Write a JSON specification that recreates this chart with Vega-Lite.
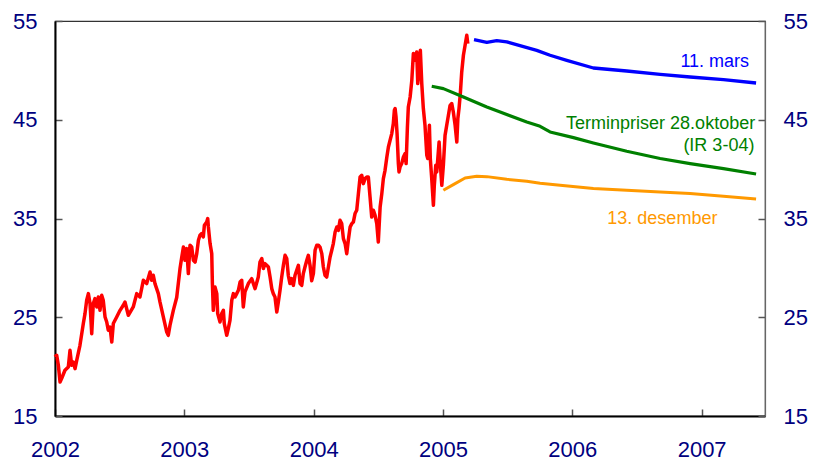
{
  "$schema": "https://vega.github.io/schema/vega-lite/v6.json",
  "width": 710,
  "height": 395,
  "autosize": "none",
  "padding": {"left": 55, "top": 21, "right": 49, "bottom": 49},
  "background": "white",
  "config": {
    "view": {"stroke": "#333333", "strokeWidth": 1.2},
    "axis": {
      "grid": false,
      "labelFont": "Liberation Sans",
      "labelFontSize": 22,
      "labelColor": "#000080",
      "tickColor": "#555555",
      "tickWidth": 1.5,
      "tickSize": -7,
      "domainColor": "#000000",
      "domainWidth": 2,
      "title": null
    }
  },
  "datasets": {
    "lines": [
      {"series": "Brent", "year": 2002.000, "value": 20.97},
      {"series": "Brent", "year": 2002.013, "value": 21.15},
      {"series": "Brent", "year": 2002.026, "value": 20.13},
      {"series": "Brent", "year": 2002.039, "value": 18.44},
      {"series": "Brent", "year": 2002.052, "value": 18.82},
      {"series": "Brent", "year": 2002.077, "value": 19.63},
      {"series": "Brent", "year": 2002.103, "value": 19.96},
      {"series": "Brent", "year": 2002.116, "value": 21.65},
      {"series": "Brent", "year": 2002.129, "value": 20.13},
      {"series": "Brent", "year": 2002.142, "value": 20.47},
      {"series": "Brent", "year": 2002.155, "value": 19.80},
      {"series": "Brent", "year": 2002.168, "value": 20.64},
      {"series": "Brent", "year": 2002.193, "value": 22.16},
      {"series": "Brent", "year": 2002.219, "value": 24.36},
      {"series": "Brent", "year": 2002.232, "value": 25.37},
      {"series": "Brent", "year": 2002.245, "value": 26.72},
      {"series": "Brent", "year": 2002.258, "value": 27.39},
      {"series": "Brent", "year": 2002.271, "value": 26.38},
      {"series": "Brent", "year": 2002.284, "value": 23.34},
      {"series": "Brent", "year": 2002.296, "value": 26.38},
      {"series": "Brent", "year": 2002.309, "value": 26.89},
      {"series": "Brent", "year": 2002.323, "value": 26.04},
      {"series": "Brent", "year": 2002.335, "value": 27.05},
      {"series": "Brent", "year": 2002.348, "value": 25.70},
      {"series": "Brent", "year": 2002.361, "value": 27.22},
      {"series": "Brent", "year": 2002.373, "value": 26.72},
      {"series": "Brent", "year": 2002.387, "value": 25.02},
      {"series": "Brent", "year": 2002.400, "value": 24.52},
      {"series": "Brent", "year": 2002.412, "value": 23.68},
      {"series": "Brent", "year": 2002.425, "value": 24.01},
      {"series": "Brent", "year": 2002.439, "value": 22.49},
      {"series": "Brent", "year": 2002.451, "value": 24.36},
      {"series": "Brent", "year": 2002.477, "value": 25.02},
      {"series": "Brent", "year": 2002.503, "value": 25.70},
      {"series": "Brent", "year": 2002.528, "value": 26.21},
      {"series": "Brent", "year": 2002.541, "value": 26.54},
      {"series": "Brent", "year": 2002.567, "value": 25.20},
      {"series": "Brent", "year": 2002.605, "value": 26.04},
      {"series": "Brent", "year": 2002.632, "value": 27.39},
      {"series": "Brent", "year": 2002.657, "value": 27.05},
      {"series": "Brent", "year": 2002.683, "value": 28.74},
      {"series": "Brent", "year": 2002.709, "value": 28.41},
      {"series": "Brent", "year": 2002.735, "value": 29.58},
      {"series": "Brent", "year": 2002.748, "value": 28.74},
      {"series": "Brent", "year": 2002.760, "value": 29.25},
      {"series": "Brent", "year": 2002.773, "value": 28.41},
      {"series": "Brent", "year": 2002.799, "value": 27.39},
      {"series": "Brent", "year": 2002.812, "value": 26.54},
      {"series": "Brent", "year": 2002.838, "value": 25.02},
      {"series": "Brent", "year": 2002.864, "value": 23.50},
      {"series": "Brent", "year": 2002.876, "value": 23.17},
      {"series": "Brent", "year": 2002.889, "value": 24.18},
      {"series": "Brent", "year": 2002.915, "value": 25.70},
      {"series": "Brent", "year": 2002.941, "value": 27.00},
      {"series": "Brent", "year": 2002.967, "value": 29.96},
      {"series": "Brent", "year": 2002.980, "value": 31.07},
      {"series": "Brent", "year": 2002.993, "value": 32.11},
      {"series": "Brent", "year": 2003.005, "value": 30.77},
      {"series": "Brent", "year": 2003.019, "value": 31.95},
      {"series": "Brent", "year": 2003.031, "value": 29.42},
      {"series": "Brent", "year": 2003.044, "value": 32.29},
      {"series": "Brent", "year": 2003.057, "value": 32.11},
      {"series": "Brent", "year": 2003.070, "value": 30.77},
      {"series": "Brent", "year": 2003.083, "value": 30.59},
      {"series": "Brent", "year": 2003.096, "value": 31.44},
      {"series": "Brent", "year": 2003.109, "value": 32.79},
      {"series": "Brent", "year": 2003.121, "value": 33.30},
      {"series": "Brent", "year": 2003.134, "value": 33.47},
      {"series": "Brent", "year": 2003.147, "value": 33.13},
      {"series": "Brent", "year": 2003.155, "value": 34.31},
      {"series": "Brent", "year": 2003.173, "value": 34.64},
      {"series": "Brent", "year": 2003.181, "value": 34.99},
      {"series": "Brent", "year": 2003.186, "value": 34.14},
      {"series": "Brent", "year": 2003.199, "value": 32.46},
      {"series": "Brent", "year": 2003.212, "value": 31.44},
      {"series": "Brent", "year": 2003.217, "value": 28.41},
      {"series": "Brent", "year": 2003.224, "value": 25.70},
      {"series": "Brent", "year": 2003.237, "value": 28.06},
      {"series": "Brent", "year": 2003.251, "value": 27.39},
      {"series": "Brent", "year": 2003.258, "value": 25.37},
      {"series": "Brent", "year": 2003.276, "value": 24.52},
      {"series": "Brent", "year": 2003.289, "value": 25.37},
      {"series": "Brent", "year": 2003.302, "value": 25.70},
      {"series": "Brent", "year": 2003.309, "value": 24.36},
      {"series": "Brent", "year": 2003.328, "value": 23.17},
      {"series": "Brent", "year": 2003.340, "value": 23.85},
      {"series": "Brent", "year": 2003.353, "value": 24.69},
      {"series": "Brent", "year": 2003.367, "value": 26.72},
      {"series": "Brent", "year": 2003.379, "value": 27.39},
      {"series": "Brent", "year": 2003.392, "value": 27.05},
      {"series": "Brent", "year": 2003.405, "value": 27.39},
      {"series": "Brent", "year": 2003.418, "value": 27.73},
      {"series": "Brent", "year": 2003.431, "value": 28.57},
      {"series": "Brent", "year": 2003.444, "value": 28.74},
      {"series": "Brent", "year": 2003.456, "value": 26.04},
      {"series": "Brent", "year": 2003.469, "value": 27.56},
      {"series": "Brent", "year": 2003.495, "value": 28.41},
      {"series": "Brent", "year": 2003.521, "value": 28.91},
      {"series": "Brent", "year": 2003.547, "value": 27.90},
      {"series": "Brent", "year": 2003.572, "value": 29.07},
      {"series": "Brent", "year": 2003.585, "value": 30.59},
      {"series": "Brent", "year": 2003.599, "value": 30.94},
      {"series": "Brent", "year": 2003.611, "value": 29.93},
      {"series": "Brent", "year": 2003.624, "value": 30.43},
      {"series": "Brent", "year": 2003.637, "value": 30.26},
      {"series": "Brent", "year": 2003.650, "value": 30.09},
      {"series": "Brent", "year": 2003.663, "value": 29.07},
      {"series": "Brent", "year": 2003.676, "value": 27.90},
      {"series": "Brent", "year": 2003.688, "value": 27.39},
      {"series": "Brent", "year": 2003.701, "value": 27.05},
      {"series": "Brent", "year": 2003.715, "value": 25.53},
      {"series": "Brent", "year": 2003.727, "value": 26.54},
      {"series": "Brent", "year": 2003.740, "value": 27.73},
      {"series": "Brent", "year": 2003.753, "value": 29.07},
      {"series": "Brent", "year": 2003.766, "value": 30.26},
      {"series": "Brent", "year": 2003.779, "value": 31.27},
      {"series": "Brent", "year": 2003.792, "value": 30.94},
      {"series": "Brent", "year": 2003.804, "value": 29.25},
      {"series": "Brent", "year": 2003.817, "value": 28.41},
      {"series": "Brent", "year": 2003.830, "value": 28.91},
      {"series": "Brent", "year": 2003.843, "value": 28.23},
      {"series": "Brent", "year": 2003.856, "value": 29.25},
      {"series": "Brent", "year": 2003.869, "value": 29.75},
      {"series": "Brent", "year": 2003.882, "value": 30.26},
      {"series": "Brent", "year": 2003.895, "value": 28.41},
      {"series": "Brent", "year": 2003.908, "value": 28.23},
      {"series": "Brent", "year": 2003.920, "value": 29.42},
      {"series": "Brent", "year": 2003.933, "value": 30.09},
      {"series": "Brent", "year": 2003.947, "value": 30.77},
      {"series": "Brent", "year": 2003.959, "value": 31.27},
      {"series": "Brent", "year": 2003.972, "value": 30.26},
      {"series": "Brent", "year": 2003.985, "value": 28.70},
      {"series": "Brent", "year": 2003.998, "value": 29.42},
      {"series": "Brent", "year": 2004.011, "value": 31.78},
      {"series": "Brent", "year": 2004.024, "value": 32.29},
      {"series": "Brent", "year": 2004.037, "value": 32.29},
      {"series": "Brent", "year": 2004.049, "value": 32.11},
      {"series": "Brent", "year": 2004.063, "value": 31.44},
      {"series": "Brent", "year": 2004.075, "value": 30.09},
      {"series": "Brent", "year": 2004.088, "value": 29.25},
      {"series": "Brent", "year": 2004.101, "value": 29.07},
      {"series": "Brent", "year": 2004.114, "value": 30.09},
      {"series": "Brent", "year": 2004.127, "value": 31.10},
      {"series": "Brent", "year": 2004.140, "value": 31.78},
      {"series": "Brent", "year": 2004.152, "value": 32.46},
      {"series": "Brent", "year": 2004.166, "value": 33.63},
      {"series": "Brent", "year": 2004.179, "value": 34.14},
      {"series": "Brent", "year": 2004.191, "value": 33.80},
      {"series": "Brent", "year": 2004.204, "value": 34.82},
      {"series": "Brent", "year": 2004.217, "value": 34.48},
      {"series": "Brent", "year": 2004.230, "value": 32.96},
      {"series": "Brent", "year": 2004.243, "value": 32.46},
      {"series": "Brent", "year": 2004.256, "value": 31.44},
      {"series": "Brent", "year": 2004.268, "value": 32.79},
      {"series": "Brent", "year": 2004.282, "value": 34.14},
      {"series": "Brent", "year": 2004.295, "value": 34.48},
      {"series": "Brent", "year": 2004.307, "value": 34.64},
      {"series": "Brent", "year": 2004.320, "value": 35.50},
      {"series": "Brent", "year": 2004.333, "value": 35.83},
      {"series": "Brent", "year": 2004.346, "value": 37.52},
      {"series": "Brent", "year": 2004.359, "value": 39.20},
      {"series": "Brent", "year": 2004.372, "value": 39.37},
      {"series": "Brent", "year": 2004.384, "value": 38.53},
      {"series": "Brent", "year": 2004.398, "value": 39.04},
      {"series": "Brent", "year": 2004.411, "value": 39.20},
      {"series": "Brent", "year": 2004.423, "value": 39.20},
      {"series": "Brent", "year": 2004.436, "value": 37.18},
      {"series": "Brent", "year": 2004.449, "value": 35.15},
      {"series": "Brent", "year": 2004.462, "value": 35.83},
      {"series": "Brent", "year": 2004.475, "value": 35.32},
      {"series": "Brent", "year": 2004.488, "value": 34.48},
      {"series": "Brent", "year": 2004.500, "value": 32.62},
      {"series": "Brent", "year": 2004.514, "value": 36.16},
      {"series": "Brent", "year": 2004.527, "value": 37.52},
      {"series": "Brent", "year": 2004.539, "value": 39.04},
      {"series": "Brent", "year": 2004.552, "value": 39.88},
      {"series": "Brent", "year": 2004.566, "value": 41.23},
      {"series": "Brent", "year": 2004.578, "value": 42.24},
      {"series": "Brent", "year": 2004.591, "value": 42.92},
      {"series": "Brent", "year": 2004.604, "value": 43.60},
      {"series": "Brent", "year": 2004.616, "value": 44.61},
      {"series": "Brent", "year": 2004.624, "value": 45.96},
      {"series": "Brent", "year": 2004.630, "value": 46.13},
      {"series": "Brent", "year": 2004.637, "value": 45.28},
      {"series": "Brent", "year": 2004.645, "value": 43.60},
      {"series": "Brent", "year": 2004.655, "value": 40.56},
      {"series": "Brent", "year": 2004.660, "value": 39.71},
      {"series": "Brent", "year": 2004.668, "value": 40.21},
      {"series": "Brent", "year": 2004.681, "value": 40.56},
      {"series": "Brent", "year": 2004.694, "value": 41.23},
      {"series": "Brent", "year": 2004.707, "value": 41.57},
      {"series": "Brent", "year": 2004.715, "value": 40.56},
      {"series": "Brent", "year": 2004.725, "value": 44.27},
      {"series": "Brent", "year": 2004.732, "value": 46.29},
      {"series": "Brent", "year": 2004.746, "value": 47.30},
      {"series": "Brent", "year": 2004.759, "value": 48.99},
      {"series": "Brent", "year": 2004.771, "value": 51.70},
      {"series": "Brent", "year": 2004.784, "value": 51.02},
      {"series": "Brent", "year": 2004.797, "value": 51.86},
      {"series": "Brent", "year": 2004.805, "value": 48.66},
      {"series": "Brent", "year": 2004.815, "value": 50.01},
      {"series": "Brent", "year": 2004.825, "value": 52.03},
      {"series": "Brent", "year": 2004.836, "value": 48.66},
      {"series": "Brent", "year": 2004.848, "value": 46.16},
      {"series": "Brent", "year": 2004.861, "value": 44.44},
      {"series": "Brent", "year": 2004.875, "value": 41.40},
      {"series": "Brent", "year": 2004.882, "value": 41.07},
      {"series": "Brent", "year": 2004.887, "value": 42.08},
      {"series": "Brent", "year": 2004.895, "value": 44.44},
      {"series": "Brent", "year": 2004.902, "value": 41.07},
      {"series": "Brent", "year": 2004.913, "value": 39.04},
      {"series": "Brent", "year": 2004.926, "value": 36.34},
      {"series": "Brent", "year": 2004.933, "value": 38.36},
      {"series": "Brent", "year": 2004.944, "value": 40.39},
      {"series": "Brent", "year": 2004.952, "value": 39.71},
      {"series": "Brent", "year": 2004.960, "value": 41.07},
      {"series": "Brent", "year": 2004.970, "value": 42.75},
      {"series": "Brent", "year": 2004.980, "value": 40.39},
      {"series": "Brent", "year": 2004.991, "value": 38.36},
      {"series": "Brent", "year": 2005.003, "value": 40.39},
      {"series": "Brent", "year": 2005.016, "value": 43.42},
      {"series": "Brent", "year": 2005.029, "value": 44.44},
      {"series": "Brent", "year": 2005.042, "value": 45.45},
      {"series": "Brent", "year": 2005.055, "value": 46.46},
      {"series": "Brent", "year": 2005.068, "value": 46.64},
      {"series": "Brent", "year": 2005.080, "value": 45.78},
      {"series": "Brent", "year": 2005.094, "value": 44.44},
      {"series": "Brent", "year": 2005.107, "value": 42.75},
      {"series": "Brent", "year": 2005.115, "value": 45.12},
      {"series": "Brent", "year": 2005.124, "value": 46.13},
      {"series": "Brent", "year": 2005.135, "value": 47.81},
      {"series": "Brent", "year": 2005.145, "value": 49.84},
      {"series": "Brent", "year": 2005.158, "value": 51.53},
      {"series": "Brent", "year": 2005.171, "value": 52.54},
      {"series": "Brent", "year": 2005.184, "value": 53.55},
      {"series": "Brent", "year": 2005.192, "value": 52.71},
      {"series": "mars", "year": 2005.240, "value": 53.12},
      {"series": "mars", "year": 2005.339, "value": 52.84},
      {"series": "mars", "year": 2005.416, "value": 53.01},
      {"series": "mars", "year": 2005.493, "value": 52.88},
      {"series": "mars", "year": 2005.725, "value": 52.03},
      {"series": "mars", "year": 2005.828, "value": 51.53},
      {"series": "mars", "year": 2005.957, "value": 51.02},
      {"series": "mars", "year": 2006.163, "value": 50.24},
      {"series": "mars", "year": 2006.421, "value": 49.94},
      {"series": "mars", "year": 2006.679, "value": 49.60},
      {"series": "mars", "year": 2006.911, "value": 49.33},
      {"series": "mars", "year": 2007.169, "value": 49.06},
      {"series": "mars", "year": 2007.421, "value": 48.72},
      {"series": "oktober", "year": 2004.913, "value": 48.39},
      {"series": "oktober", "year": 2005.003, "value": 48.15},
      {"series": "oktober", "year": 2005.158, "value": 47.30},
      {"series": "oktober", "year": 2005.339, "value": 46.29},
      {"series": "oktober", "year": 2005.442, "value": 45.78},
      {"series": "oktober", "year": 2005.648, "value": 44.77},
      {"series": "oktober", "year": 2005.751, "value": 44.34},
      {"series": "oktober", "year": 2005.828, "value": 43.76},
      {"series": "oktober", "year": 2006.009, "value": 43.19},
      {"series": "oktober", "year": 2006.163, "value": 42.65},
      {"series": "oktober", "year": 2006.421, "value": 41.81},
      {"series": "oktober", "year": 2006.679, "value": 41.07},
      {"series": "oktober", "year": 2006.911, "value": 40.56},
      {"series": "oktober", "year": 2007.169, "value": 40.05},
      {"series": "oktober", "year": 2007.421, "value": 39.51},
      {"series": "desember", "year": 2005.003, "value": 37.86},
      {"series": "desember", "year": 2005.080, "value": 38.43},
      {"series": "desember", "year": 2005.171, "value": 39.10},
      {"series": "desember", "year": 2005.261, "value": 39.27},
      {"series": "desember", "year": 2005.339, "value": 39.24},
      {"series": "desember", "year": 2005.493, "value": 38.97},
      {"series": "desember", "year": 2005.648, "value": 38.77},
      {"series": "desember", "year": 2005.751, "value": 38.56},
      {"series": "desember", "year": 2005.906, "value": 38.36},
      {"series": "desember", "year": 2006.163, "value": 38.03},
      {"series": "desember", "year": 2006.421, "value": 37.86},
      {"series": "desember", "year": 2006.679, "value": 37.68},
      {"series": "desember", "year": 2006.911, "value": 37.53},
      {"series": "desember", "year": 2007.169, "value": 37.25},
      {"series": "desember", "year": 2007.421, "value": 36.98}
    ],
    "labels": [
      {"series": "mars", "year": 2007.367, "value": 50.85, "label": "11. mars"},
      {"series": "oktober", "year": 2007.414, "value": 44.61, "label": "Terminpriser 28.oktober"},
      {"series": "oktober", "year": 2007.408, "value": 42.34, "label": "(IR 3-04)"},
      {"series": "desember", "year": 2007.122, "value": 34.92, "label": "13. desember"}
    ]
  },
  "layer": [
    {
      "data": {"name": "lines"},
      "mark": {"type": "line", "interpolate": "linear", "strokeJoin": "round"},
      "encoding": {
        "x": {
          "field": "year", "type": "quantitative",
          "scale": {"domain": [2002, 2007.49], "nice": false, "zero": false},
          "axis": {"values": [2002, 2003, 2004, 2005, 2006, 2007], "format": "d", "labelPadding": 30, "labelFlush": false}
        },
        "y": {
          "field": "value", "type": "quantitative",
          "scale": {"domain": [15, 55], "nice": false, "zero": false},
          "axis": {"orient": "left", "values": [15, 25, 35, 45, 55], "labelPadding": 25}
        },
        "color": {
          "field": "series", "type": "nominal",
          "scale": {"domain": ["Brent", "mars", "oktober", "desember"], "range": ["#FF0000", "#0000FF", "#008000", "#FF9900"]},
          "legend": null
        },
        "strokeWidth": {
          "field": "series", "type": "nominal",
          "scale": {"domain": ["Brent", "mars", "oktober", "desember"], "range": [3.5, 3, 3, 3]},
          "legend": null
        },
        "detail": {"field": "series"}
      }
    },
    {
      "data": {"name": "labels"},
      "mark": {"type": "text", "align": "right", "baseline": "middle", "font": "Liberation Sans", "fontSize": 18},
      "encoding": {
        "x": {"field": "year", "type": "quantitative", "scale": {"domain": [2002, 2007.49], "nice": false, "zero": false}},
        "y": {
          "field": "value", "type": "quantitative",
          "scale": {"domain": [15, 55], "nice": false, "zero": false},
          "axis": {"orient": "right", "values": [15, 25, 35, 45, 55], "labelPadding": 25, "domainColor": "#666666", "domainWidth": 1.2, "labelAlign": "left"}
        },
        "text": {"field": "label"},
        "color": {
          "field": "series", "type": "nominal",
          "scale": {"domain": ["Brent", "mars", "oktober", "desember"], "range": ["#FF0000", "#0000FF", "#008000", "#FF9900"]},
          "legend": null
        }
      }
    }
  ],
  "resolve": {"scale": {"y": "independent"}}
}
